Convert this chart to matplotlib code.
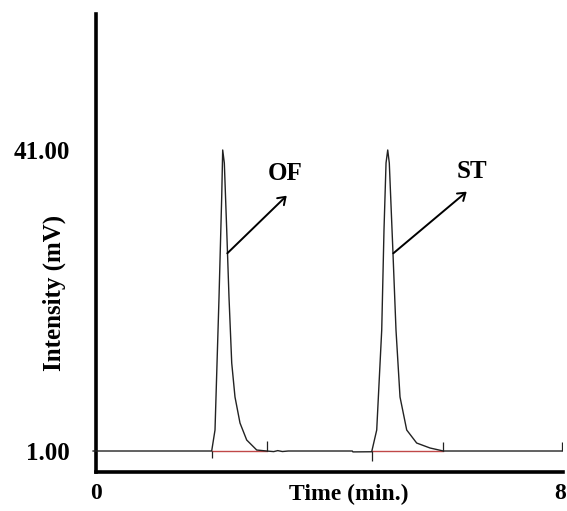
import matplotlib
matplotlib.use("Agg")
import matplotlib.pyplot as plt
from matplotlib.transforms import ScaledTranslation

# ---- data ----
trace_t = [-0.05, 1.986, 2.043, 2.112, 2.158, 2.175, 2.203, 2.244, 2.283, 2.330,
           2.386, 2.472, 2.587, 2.759, 2.930, 3.05, 3.12, 3.20, 3.30, 4.40,
           4.41, 4.733, 4.819, 4.905, 4.944, 4.979, 5.008, 5.035, 5.094, 5.150,
           5.219, 5.334, 5.505, 5.734, 5.963, 8.0]
trace_v = [1.0, 1.0, 3.79, 21.47, 34.75, 41.0, 39.27, 30.37, 21.47, 12.69,
           8.18, 4.72, 2.46, 1.13, 1.0, 0.92, 1.05, 0.93, 1.0, 1.0,
           0.88, 0.9, 3.79, 17.08, 30.37, 39.27, 41.0, 39.27, 28.11, 17.08,
           8.18, 3.79, 2.06, 1.40, 1.0, 1.0]

peak_names = ["OF", "ST"]
peak_start = [1.986, 4.733]
peak_end = [2.930, 5.963]
start_tick_low = [0.05, -0.3]
end_tick_high = [2.3, 2.2]
end_marker_t = 8.0
end_marker_high = 2.2

arrow_from = [(2.254, 27.27), (5.104, 27.27)]
arrow_to = [(3.274, 34.93), (6.364, 35.46)]
label_pos = [(3.25, 37.9), (6.455, 38.1)]

y_ticks = [1.0, 41.0]
y_tick_labels = ["1.00", "41.00"]
x_ticks = [0, 8]
x_tick_labels = ["0", "8"]

# ---- figure ----
W, H = 567, 511
fig = plt.figure(figsize=(W / 100, H / 100), dpi=100)
ax_left, ax_right, ax_bottom, ax_top = 96, 563, 472, 14
ax = fig.add_axes([ax_left / W, (H - ax_bottom) / H,
                   (ax_right - ax_left) / W, (ax_bottom - ax_top) / H])
ax.set_xlim(0, 8.017)
ax.set_ylim(-1.79, 59.07)

font = dict(family="Liberation Serif", fontweight="bold", fontsize=18)
font_b = dict(family="Liberation Serif", fontweight="bold", fontsize=17)

ax.plot(trace_t, trace_v, color="#222222", lw=1.0, zorder=3, clip_on=False)

for s, e in zip(peak_start, peak_end):
    ax.plot([s, e], [0.95, 0.95], color="#c04848", lw=1.0, zorder=2)

ax.vlines(peak_start, start_tick_low, 1.0, color="#222222", lw=0.9)
ax.vlines(peak_end, 1.0, end_tick_high, color="#222222", lw=0.9)
ax.vlines([end_marker_t], 1.0, end_marker_high, color="#222222", lw=0.9)

for name, p0, p1, lp in zip(peak_names, arrow_from, arrow_to, label_pos):
    ax.annotate("", xy=p1, xytext=p0,
                arrowprops=dict(arrowstyle="->,head_length=0.5,head_width=0.35",
                                color="black", lw=1.4, shrinkA=0, shrinkB=0))
    ax.text(lp[0], lp[1], name, ha="center", va="center", **font)

for side in ["top", "right"]:
    ax.spines[side].set_visible(False)
for side in ["left", "bottom"]:
    ax.spines[side].set_linewidth(2.6)
    ax.spines[side].set_color("black")

ax.set_yticks(y_ticks)
ax.set_yticklabels(y_tick_labels, **font)
ax.set_xticks(x_ticks)
ax.set_xticklabels(x_tick_labels, **font_b)
ax.tick_params(axis="y", length=0, pad=19)
ax.tick_params(axis="x", length=0, pad=8)
xl = ax.get_xticklabels()
xl[-1].set_ha("right")
xl[-1].set_transform(xl[-1].get_transform() + ScaledTranslation(4 / 100, 0, fig.dpi_scale_trans))

ax.text((349 - ax_left) / (ax_right - ax_left), (ax_bottom - 484) / (ax_bottom - ax_top),
        "Time (min.)", transform=ax.transAxes, ha="center", va="top", **font_b)
ax.text((54 - ax_left) / (ax_right - ax_left), (ax_bottom - 293) / (ax_bottom - ax_top),
        "Intensity (mV)", transform=ax.transAxes, ha="center", va="center",
        rotation=90, **font)

fig.savefig("out.png", dpi=100)
